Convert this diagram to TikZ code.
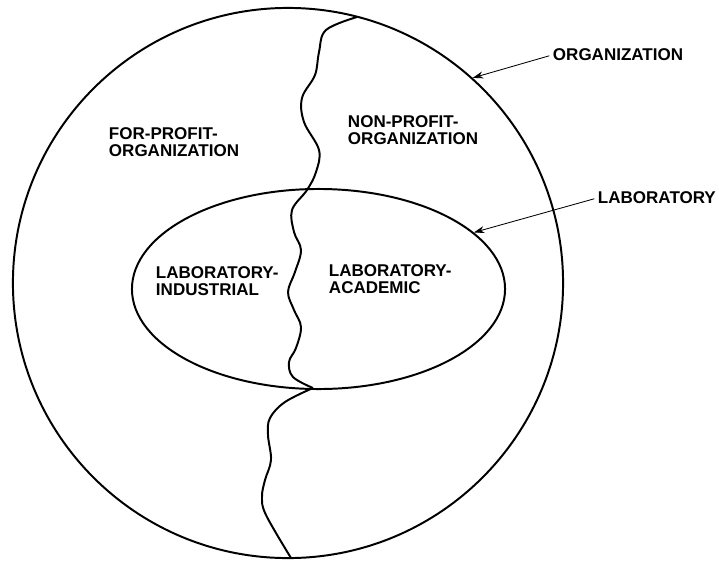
\documentclass[tikz,border=0pt]{standalone}
\usepackage{fontspec}
\setmainfont{Liberation Sans}
\usetikzlibrary{shapes.geometric,arrows.meta}
\tikzset{
  lbl/.style={font=\bfseries\fontsize{12.1}{12.2}\selectfont, align=left, inner sep=0pt},
  pointer/.style={-{Stealth[length=7.5pt,width=5pt]}, line width=0.6pt, shorten <=2pt},
}
\begin{document}
\begin{tikzpicture}[x=0.025cm,y=-0.025cm,line width=1.4pt]
        \useasboundingbox (0,0) rectangle (719,561);
        \node[circle,draw,minimum size=13.75cm,inner sep=0pt] (org) at (288,283) {};
        \node[ellipse,draw,minimum width=9.325cm,minimum height=5cm,inner sep=0pt] (lab) at (318.5,289) {};
        % dividing line, upper part
        \draw plot[smooth,tension=0.6] coordinates {(357,17) (326,30) (319,52) (315,75) (302,98) (304,122) (319,150) (316,172) (307,190) (292,210) (294,232) (301,250) (295,272) (288,292) (294,310) (301,327) (296,348) (289,362) (293,377) (313,388)};
        % dividing line, lower part
        \draw plot[smooth,tension=0.6] coordinates {(313,388) (285,402) (270,418) (268,435) (271,460) (265,480) (262,497) (266,515) (291,558)};
        \node[lbl,anchor=west] (forprofit) at (108,142.5) {FOR-PROFIT-\\ORGANIZATION};
        \node[lbl,anchor=west] (nonprofit) at (347,130.5) {NON-PROFIT-\\ORGANIZATION};
        \node[lbl,anchor=west] (labind) at (155,281) {LABORATORY-\\INDUSTRIAL};
        \node[lbl,anchor=west] (labacad) at (328,279) {LABORATORY-\\ACADEMIC};
        \node[lbl,anchor=west] (orglbl) at (552,55) {ORGANIZATION};
        \node[lbl,anchor=west] (lablbl) at (597,198) {LABORATORY};
        \draw[pointer] (orglbl.west) -- (org.48);
        \draw[pointer] (lablbl.west) -- (lab.20);
      \end{tikzpicture}
\end{document}
